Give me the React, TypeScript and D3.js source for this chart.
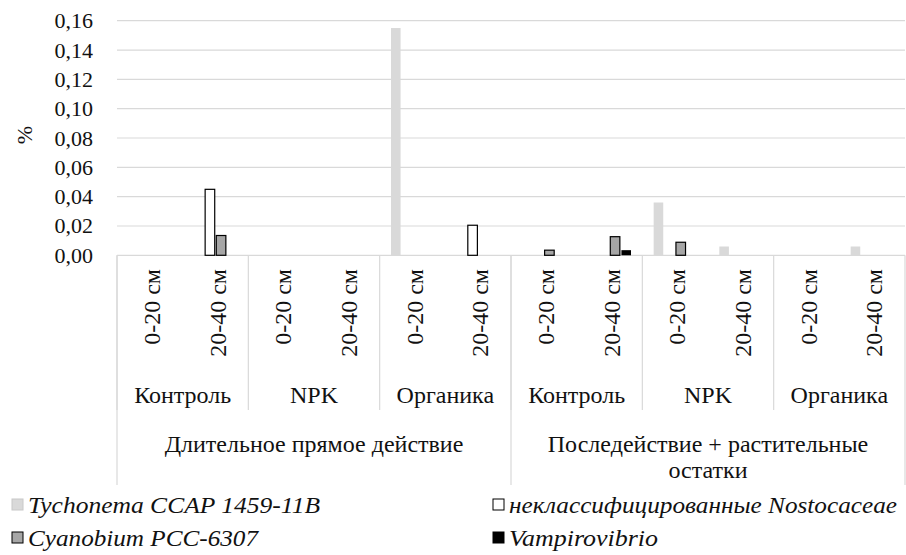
// Chart v9: drawn through a ref with D3 selections
import React, { useEffect, useRef } from "react";
import * as d3 from "d3";

const yTicks = [0, 0.02, 0.04, 0.06, 0.08, 0.1, 0.12, 0.14, 0.16];
const regimes = ["Длительное прямое действие", "Последействие + растительные остатки"];
const regimeLines = [["Длительное прямое действие"], ["Последействие + растительные", "остатки"]];
const treatments = ["Контроль", "NPK", "Органика"];
const depths = ["0-20 см", "20-40 см"];
const seriesNames = [
  "Tychonema CCAP 1459-11B",
  "неклассифицированные Nostocaceae",
  "Cyanobium PCC-6307",
  "Vampirovibrio",
];
// 12 categories: regime x treatment x depth
const tychonema = [0, 0, 0, 0, 0.155, 0, 0, 0, 0.036, 0.006, 0, 0.006];
const nostocaceae = [0, 0.045, 0, 0, 0, 0.0205, 0, 0, 0, 0, 0, 0];
const cyanobium = [0, 0.0135, 0, 0, 0, 0, 0.0035, 0.0127, 0.0089, 0, 0, 0];
const vampirovibrio = [0, 0, 0, 0, 0, 0, 0, 0.0035, 0, 0, 0, 0];

const seriesValues = [tychonema, nostocaceae, cyanobium, vampirovibrio];
const fills = ["#d9d9d9", "#ffffff", "#a6a6a6", "#000000"];
const strokes = ["none", "#000000", "#000000", "none"];

const FONT = "Liberation Serif";
const GRID = "#d9d9d9";

export default function App() {
  const ref = useRef<SVGSVGElement | null>(null);
  const W = 906, H = 555;

  useEffect(() => {
    const left = 117, right = 905, top = 20.7, bottom = 255.3;
    const svg = d3.select(ref.current);
    svg.selectAll("*").remove();
    svg.attr("font-family", FONT).style("font-family", FONT);

    const cats: string[] = [];
    regimes.forEach((_, i) =>
      treatments.forEach((_, j) => depths.forEach((_, k) => cats.push(`${i}|${j}|${k}`)))
    );
    const x0 = d3.scaleBand<string>().domain(cats).range([left, right]).padding(0);
    const bw = x0.bandwidth();
    const inner = 43;
    const x1 = d3.scaleBand<string>().domain(seriesNames).range([0, inner]).paddingInner(0.14).paddingOuter(0);
    const y = d3.scaleLinear().domain([0, 0.16]).range([bottom, top]);
    const groupKeys: string[] = [];
    regimes.forEach((_, i) => treatments.forEach((_, j) => groupKeys.push(`${i}|${j}`)));
    const xg = d3.scaleBand<string>().domain(groupKeys).range([left, right]);
    const xt = d3.scaleBand<string>().domain(regimes).range([left, right]);
    const fmt = (v: number) => d3.format(".2f")(v).replace(".", ",");

    const txt = (g: any) =>
      g.append("text").attr("font-family", FONT).style("font-family", FONT).attr("fill", "#111");

    svg.append("rect").attr("width", W).attr("height", H).attr("fill", "#fff");

    svg.selectAll(".grid").data(yTicks).join("line")
      .attr("x1", left).attr("x2", right).attr("y1", (d) => y(d)).attr("y2", (d) => y(d))
      .attr("stroke", GRID).attr("stroke-width", 1.2);

    yTicks.forEach((t) => {
      txt(svg).attr("x", 93).attr("y", y(t) + 7.5).attr("text-anchor", "end").attr("font-size", 22).text(fmt(t));
    });
    txt(svg).attr("transform", "translate(32,135) rotate(-90)").attr("text-anchor", "middle").attr("font-size", 22).text("%");

    seriesNames.forEach((s, si) => {
      cats.forEach((c, ci) => {
        const v = seriesValues[si][ci];
        if (!v) return;
        svg.append("rect")
          .attr("x", (x0(c) as number) + (bw - inner) / 2 + (x1(s) as number))
          .attr("y", y(v)).attr("width", x1.bandwidth()).attr("height", y(0) - y(v))
          .attr("fill", fills[si]).attr("stroke", strokes[si])
          .attr("stroke-width", strokes[si] === "none" ? 0 : 1.2);
      });
    });

    groupKeys.forEach((g) => {
      svg.append("line").attr("x1", xg(g) as number).attr("x2", xg(g) as number)
        .attr("y1", bottom).attr("y2", 410).attr("stroke", GRID).attr("stroke-width", 1.2);
    });
    [...regimes.map((r) => xt(r) as number), right].forEach((xv) => {
      svg.append("line").attr("x1", xv).attr("x2", xv)
        .attr("y1", bottom).attr("y2", 485).attr("stroke", GRID).attr("stroke-width", 1.2);
    });

    cats.forEach((c, ci) => {
      const cx = (x0(c) as number) + bw / 2 + 10;
      txt(svg).attr("transform", `translate(${cx},269) rotate(-90)`).attr("text-anchor", "end")
        .attr("font-size", 24).text(depths[ci % 2]);
    });
    groupKeys.forEach((g, gi) => {
      txt(svg).attr("x", (xg(g) as number) + xg.bandwidth() / 2).attr("y", 403)
        .attr("text-anchor", "middle").attr("font-size", 24).text(treatments[gi % 3]);
    });
    regimes.forEach((r, ri) => {
      regimeLines[ri].forEach((line, li) => {
        txt(svg).attr("x", (xt(r) as number) + xt.bandwidth() / 2).attr("y", 452 + li * 26)
          .attr("text-anchor", "middle").attr("font-size", 24).text(line);
      });
    });

    const legendItems = [
      { i: 0, x: 12, y: 505, len: 292 },
      { i: 1, x: 493, y: 505, len: 388 },
      { i: 2, x: 12, y: 538, len: 230 },
      { i: 3, x: 493, y: 538, len: 149 },
    ];
    legendItems.forEach((l) => {
      svg.append("rect").attr("x", l.x).attr("y", l.y - 6).attr("width", 11).attr("height", 11)
        .attr("fill", fills[l.i]).attr("stroke", l.i === 0 ? "#c8c8c8" : "#000").attr("stroke-width", 1);
      txt(svg).attr("x", l.x + 16).attr("y", l.y + 8).attr("font-style", "italic").attr("font-size", 24)
        .attr("textLength", l.len).attr("lengthAdjust", "spacingAndGlyphs").text(seriesNames[l.i]);
    });
  }, []);

  return <svg ref={ref} width={W} height={H} style={{ position: "absolute", left: 0, top: 0 }} />;
}
